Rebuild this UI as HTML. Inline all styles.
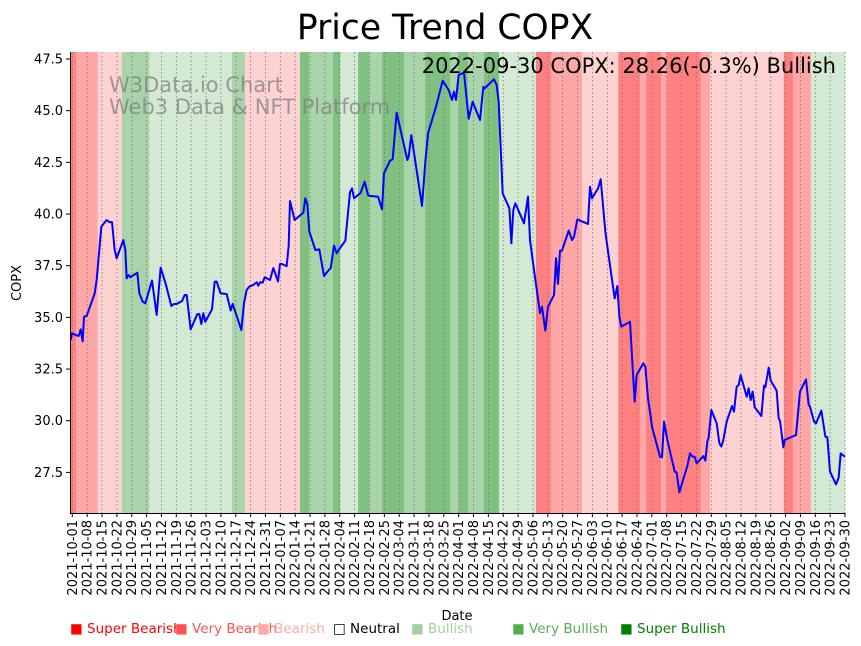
<!DOCTYPE html>
<html><head><meta charset="utf-8"><style>
body{margin:0;background:#fff;}
svg{display:block;font-family:"DejaVu Sans","Liberation Sans",sans-serif;}
</style></head><body>
<svg id="chart" width="861" height="646" viewBox="0 0 861 646">
<text x="445" y="39" font-size="34.5" text-anchor="middle">Price Trend COPX</text>
<g id="bands"></g>
<g id="grid"></g>
<g fill="#808080" fill-opacity="0.75" font-size="21">
<text x="109" y="92">W3Data.io Chart</text>
<text x="109" y="114">Web3 Data &amp; NFT Platform</text>
</g>
<path id="priceLine" fill="none" stroke="#0000ff" stroke-width="2" stroke-linejoin="round"/>
<text x="836" y="73" font-size="21" text-anchor="end">2022-09-30 COPX: 28.26(-0.3%) Bullish</text>
<g id="yaxis"></g>
<g id="xaxis"></g>
<line x1="70.5" y1="52" x2="70.5" y2="513.5" stroke="#000" stroke-width="1"/>
<line x1="70" y1="513.5" x2="845" y2="513.5" stroke="#000" stroke-width="1"/>
<text transform="translate(21,283) rotate(-90)" font-size="13" text-anchor="middle">COPX</text>
<text x="457" y="620" font-size="13" text-anchor="middle">Date</text>
<g font-size="13.5">
<text x="70" y="633" fill="#ff0000">■ Super Bearish</text>
<text x="175" y="633" fill="#ff5050">■ Very Bearish</text>
<text x="257" y="633" fill="#ffaaaa">■ Bearish</text>
<text x="333" y="633" fill="#000000">□ Neutral</text>
<text x="411" y="633" fill="#a0d0a0">■ Bullish</text>
<text x="512" y="633" fill="#50b050">■ Very Bullish</text>
<text x="620" y="633" fill="#008000">■ Super Bullish</text>
</g>
</svg>
<script>
// day offsets from 2021-10-01
const priceDays = [-0.77,-0.14,2.06,3.0,3.94,4.88,5.51,6.77,10.54,11.48,13.68,16.19,17.45,18.7,19.96,20.9,24.04,24.98,25.61,26.55,27.5,28.44,30.64,31.58,33.15,34.4,37.55,39.74,41.63,44.14,46.65,47.91,49.16,51.68,52.93,53.88,55.76,58.9,59.84,60.78,61.73,62.67,65.81,67.07,68.01,69.89,72.72,74.6,75.55,79.63,80.88,82.14,83.39,85.28,86.85,87.63,88.42,89.68,90.62,93.13,94.7,96.9,97.84,98.78,100.98,101.93,102.55,104.75,108.83,109.78,110.72,111.66,114.49,116.37,118.57,121.08,121.71,123.29,124.54,125.48,128.62,130.82,131.76,132.71,135.85,137.73,139.3,140.24,144.01,145.9,146.84,149.66,150.92,152.8,157.83,158.46,159.71,164.74,166.31,167.57,171.33,174.48,177.3,178.87,179.81,180.76,182.01,184.52,186.72,188.61,192.06,193.63,194.26,198.66,199.91,200.85,202.74,205.88,206.82,207.76,208.71,212.79,214.67,215.61,217.5,220.33,221.27,222.84,224.1,226.92,227.86,228.81,229.75,230.69,233.83,235.4,236.34,237.91,242.94,243.88,244.82,247.65,248.91,251.1,252.05,255.5,256.76,257.7,258.64,262.72,264.92,265.86,269.0,269.95,271.2,272.46,273.09,276.86,277.8,278.74,280.31,283.77,284.71,285.96,289.73,290.99,292.24,293.19,294.13,297.27,298.21,299.15,299.78,301.04,303.55,304.81,305.75,306.69,308.26,310.77,311.72,312.97,313.91,314.85,317.68,318.62,319.57,320.51,321.45,324.59,325.85,326.48,328.05,328.99,331.81,332.76,333.39,334.96,335.58,340.92,342.81,345.63,346.89,347.52,349.4,350.34,352.86,354.74,355.68,356.94,359.77,361.02,361.96,364.0];
const priceValues = [33.91,34.23,34.13,34.10,34.42,33.84,35.03,35.07,36.16,36.81,39.39,39.71,39.61,39.61,38.26,37.86,38.74,38.26,36.89,37.05,36.94,37.02,37.16,36.16,35.76,35.68,36.78,35.12,37.41,36.57,35.55,35.65,35.65,35.79,36.08,36.08,34.42,35.16,35.16,34.68,35.20,34.79,35.39,36.73,36.73,36.16,36.13,35.33,35.65,34.39,35.68,36.33,36.49,36.57,36.70,36.53,36.70,36.68,36.94,36.81,37.39,36.74,37.58,37.58,37.48,38.47,40.63,39.71,40.07,40.76,40.49,39.15,38.26,38.29,37.00,37.32,37.37,38.47,38.10,38.26,38.71,41.05,41.24,40.76,41.03,41.57,40.92,40.87,40.84,40.23,41.97,42.58,42.65,44.90,42.61,42.78,43.82,40.39,42.53,43.90,45.19,46.45,46.00,45.52,45.92,45.52,46.73,46.84,44.61,45.43,44.55,46.16,46.08,46.52,46.24,45.43,41.00,40.28,38.58,40.20,40.52,39.55,40.84,38.74,37.29,35.20,35.52,34.36,35.52,36.08,37.86,36.62,38.23,38.23,39.20,38.74,38.90,39.74,39.52,41.32,40.76,41.24,41.68,39.15,38.42,35.92,36.52,35.03,34.55,34.79,30.92,32.21,32.78,32.62,31.08,30.20,29.71,28.26,28.23,29.96,29.07,27.54,27.49,26.54,27.81,28.42,28.26,28.26,27.94,28.29,28.07,28.99,29.20,30.52,29.87,28.91,28.75,29.07,29.96,30.71,30.44,31.65,31.73,32.21,31.16,31.57,31.00,31.41,30.65,30.23,31.70,31.62,32.57,31.94,31.45,30.11,30.00,28.71,29.07,29.31,31.41,32.00,30.76,30.68,29.96,29.87,30.49,29.23,29.20,27.54,26.92,27.25,28.42,28.26];
// sentiment bands: start day and level (-3 super bearish ... 3 super bullish)
const bandStarts = [-0.75,1.74,11.97,23.41,36.27,75.23,81.35,107.3,111.5,122.8,126.2,134.6,139.9,145.9,156.3,166.2,178.0,182.0,186.4,193.9,201.0,218.4,225.5,240.1,257.2,267.4,270.3,277.3,280.0,296.0,300.4,335.2,339.4,348.0];
const bandLevels = [-3,-2,-1,2,1,2,-1,3,2,3,1,3,2,3,2,3,2,3,2,3,1,-3,-2,-1,-3,-2,-3,-2,-3,-2,-1,-3,-2,1];
const bandEnd = 364;
const yTicks = [27.5,30.0,32.5,35.0,37.5,40.0,42.5,45.0,47.5];
const tickCount = 53; // weekly ticks from 2021-10-01

const NS = "http://www.w3.org/2000/svg";
const X0 = 72.3, PXD = 2.1228, Y0 = 59, PXV = 20.67, TOP = 52, BOT = 513;
function xs(d){return X0 + d*PXD;}
function ys(v){return Y0 + (47.5 - v)*PXV;}
function mk(tag, attrs){const e=document.createElementNS(NS,tag);for(const k in attrs)e.setAttribute(k,attrs[k]);return e;}
const colors = {"-3":"#ff8080","-2":"#ffa6a6","-1":"#ffd2d2","1":"#d4e9d4","2":"#a9d4a9","3":"#80c080"};

const bands = document.getElementById('bands');
for(let i=0;i<bandStarts.length;i++){
  const s = bandStarts[i], e = i+1<bandStarts.length ? bandStarts[i+1] : bandEnd;
  const r = mk('rect',{x:xs(s),y:TOP,width:xs(e)-xs(s)+0.3,height:BOT-TOP,fill:colors[bandLevels[i]]});
  
  
  bands.appendChild(r);
}

const grid = document.getElementById('grid');
const xaxis = document.getElementById('xaxis');
const start = new Date(Date.UTC(2021,9,1));
for(let i=0;i<tickCount;i++){
  const d = i*7;
  const x = xs(d);
  const gl = mk('line',{x1:x,y1:TOP,x2:x,y2:BOT,stroke:'#777','stroke-width':0.8,'stroke-dasharray':'1.5,2.5'});
  
  
  grid.appendChild(gl);
  const tk = mk('line',{x1:x,y1:BOT,x2:x,y2:BOT+4,stroke:'#000'});
  
  
  xaxis.appendChild(tk);
  const dt = new Date(start.getTime()+d*86400000);
  const lab = dt.toISOString().slice(0,10);
  const t = mk('text',{transform:`translate(${x+4.5},${BOT+7}) rotate(-90)`,'font-size':13,'text-anchor':'end'});
  t.textContent = lab;
  
  
  xaxis.appendChild(t);
}

const yaxis = document.getElementById('yaxis');
yTicks.forEach(v=>{
  const y = ys(v);
  const tk = mk('line',{x1:66,y1:y,x2:70,y2:y,stroke:'#000'});
  
  
  yaxis.appendChild(tk);
  const t = mk('text',{x:63,y:y+4.5,'font-size':13,'text-anchor':'end'});
  t.textContent = v.toFixed(1);
  
  
  yaxis.appendChild(t);
});

let p = '';
for(let i=0;i<priceDays.length;i++){
  p += (i?'L':'M') + xs(priceDays[i]).toFixed(2) + ',' + ys(priceValues[i]).toFixed(2);
}
document.getElementById('priceLine').setAttribute('d', p);
</script>
</body></html>
